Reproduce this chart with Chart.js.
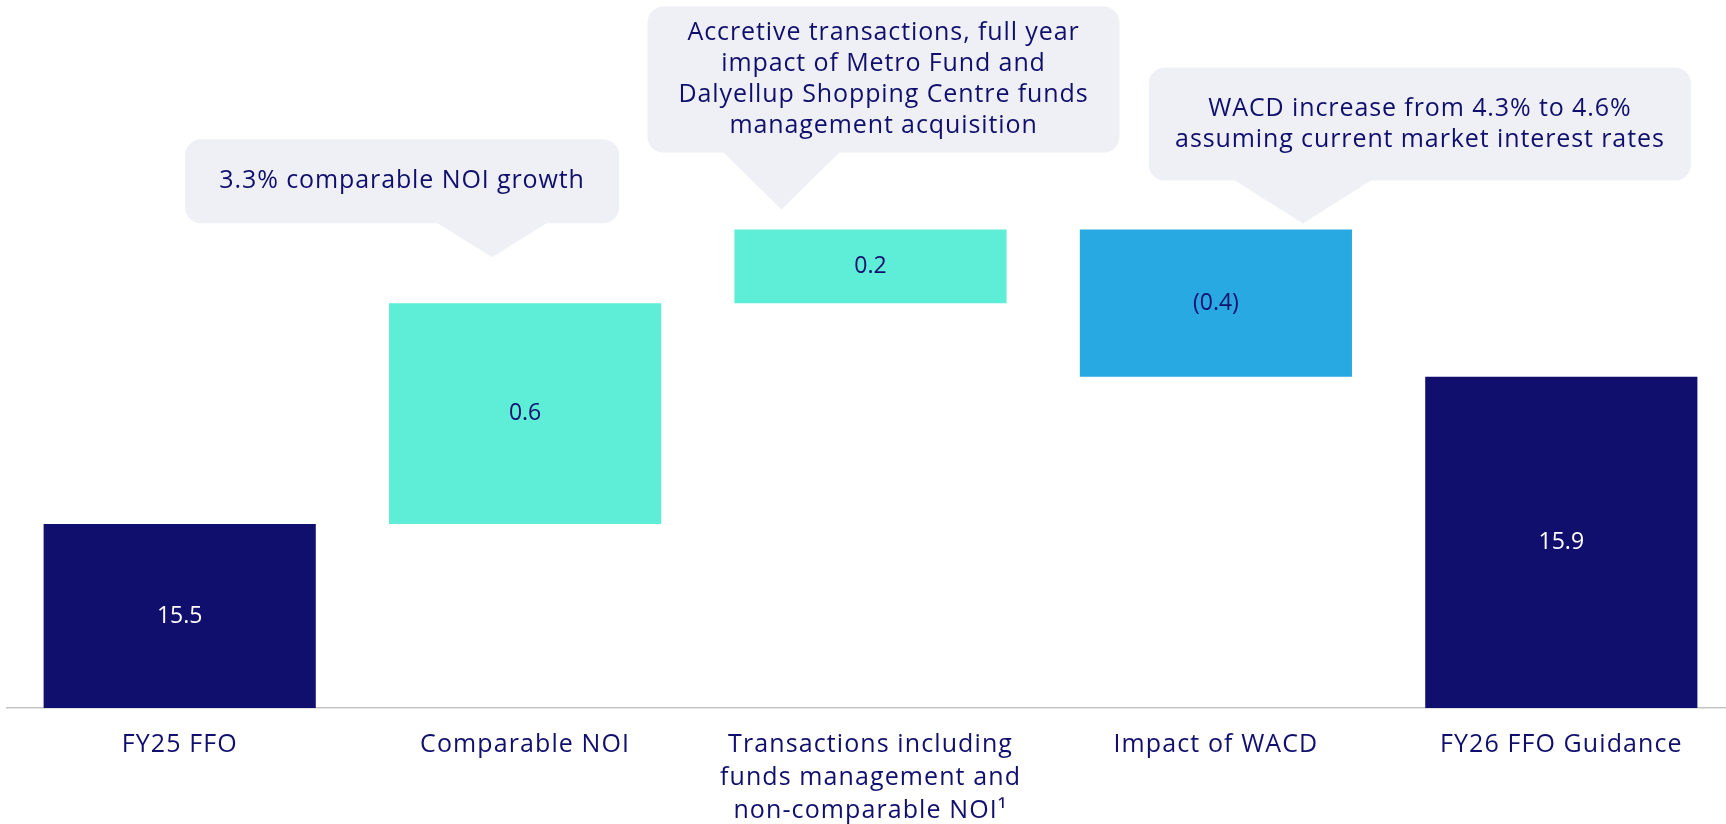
<!DOCTYPE html>
<html><head><meta charset="utf-8">
<script src="https://cdn.jsdelivr.net/npm/chart.js@4.4.1/dist/chart.umd.min.js"></script>
<style>html,body{margin:0;padding:0;background:#fff;overflow:hidden}#wrap{width:1726px;height:824px;position:relative;overflow:hidden}canvas{display:block}</style>
</head><body><div id="wrap"><canvas id="c" width="1734" height="824" style="width:1734px;height:824px"></canvas></div>
<script>
// ---- data ----
const categories = [["FY25 FFO"], ["Comparable NOI"], ["Transactions including", "funds management and", "non-comparable NOI¹"], ["Impact of WACD"], ["FY26 FFO Guidance"]];
const values = [15.5, 0.6, 0.2, -0.4, 15.9];
const isTotal = [true, false, false, false, true];
const valueLabels = ["15.5", "0.6", "0.2", "(0.4)", "15.9"];
const calloutBars = [1, 2, 3];
const calloutTexts = [
  ["3.3% comparable NOI growth"],
  ["Accretive transactions, full year", "impact of Metro Fund and", "Dalyellup Shopping Centre funds", "management acquisition"],
  ["WACD increase from 4.3% to 4.6%", "assuming current market interest rates"]
];
const axisMin = 15.0;
const axisMax = 16.924;

// ---- styles ----
const NAVY = "#100F6E", TEAL = "#5EEDD6", BLUE = "#29A9E1";
const barColors = [NAVY, TEAL, TEAL, BLUE, NAVY];
const labelColors = ["#FFFFFF", NAVY, NAVY, NAVY, "#FFFFFF"];
const FONT = "'Open Sans', 'DejaVu Sans', sans-serif";
const LETTER = "1.1px";
const calloutLayout = [
  {dx: -123, w: 434, h: 84, gap: 80, tipDx: -33, tipGap: 46, baseW: 109},
  {dx: 13, w: 472, h: 146, gap: 77, tipDx: -89, tipGap: 20, baseW: 116},
  {dx: 204, w: 542, h: 113, gap: 49, tipDx: 87, tipGap: 6, baseW: 136}
];

// running totals -> floating ranges
let run = 0;
const ranges = values.map((v, i) => {
  if (isTotal[i]) { run = v; return [0, v]; }
  const r = [run, run + v]; run += v; return r;
});

const spacingPlugin = {
  id: 'spacing',
  beforeDraw(chart) { chart.ctx.letterSpacing = LETTER; }
};

const calloutPlugin = {
  id: 'callouts',
  afterDraw(chart) {
    const ctx = chart.ctx, meta = chart.getDatasetMeta(0);
    calloutBars.forEach((bi, k) => {
      const el = meta.data[bi], L = calloutLayout[k];
      const barTop = Math.min(el.y, el.base);
      const cx = el.x + L.dx, bottom = barTop - L.gap, top = bottom - L.h;
      const left = cx - L.w / 2, right = cx + L.w / 2, r = 16;
      const tipX = el.x + L.tipDx, tipY = barTop - L.tipGap;
      ctx.save();
      ctx.fillStyle = "#EFF0F5";
      ctx.beginPath();
      ctx.moveTo(left + r, top);
      ctx.lineTo(right - r, top); ctx.arcTo(right, top, right, top + r, r);
      ctx.lineTo(right, bottom - r); ctx.arcTo(right, bottom, right - r, bottom, r);
      ctx.lineTo(tipX + L.baseW / 2, bottom);
      ctx.lineTo(tipX, tipY);
      ctx.lineTo(tipX - L.baseW / 2, bottom);
      ctx.lineTo(left + r, bottom); ctx.arcTo(left, bottom, left, bottom - r, r);
      ctx.lineTo(left, top + r); ctx.arcTo(left, top, left + r, top, r);
      ctx.closePath(); ctx.fill();
      ctx.fillStyle = NAVY;
      ctx.letterSpacing = "0.9px";
      ctx.font = "25px " + FONT;
      ctx.textAlign = "center"; ctx.textBaseline = "middle";
      const lines = calloutTexts[k], lh = 31;
      const cy = (top + bottom) / 2;
      lines.forEach((t, j) => ctx.fillText(t, cx, cy + (j - (lines.length - 1) / 2) * lh));
      ctx.restore();
    });
  }
};

const labelPlugin = {
  id: 'barLabels',
  afterDatasetsDraw(chart) {
    const ctx = chart.ctx, meta = chart.getDatasetMeta(0), area = chart.chartArea;
    ctx.save();
    ctx.letterSpacing = "0px";
    ctx.font = "23px " + FONT; ctx.textAlign = "center"; ctx.textBaseline = "middle";
    meta.data.forEach((el, i) => {
      const top = Math.max(Math.min(el.y, el.base), area.top);
      const bot = Math.min(Math.max(el.y, el.base), area.bottom);
      ctx.fillStyle = labelColors[i];
      ctx.fillText(valueLabels[i], el.x, (top + bot) / 2);
    });
    ctx.restore();
  }
};

new Chart(document.getElementById('c'), {
  type: 'bar',
  data: {labels: categories, datasets: [{data: ranges, backgroundColor: barColors, borderWidth: 0, barPercentage: 0.788, categoryPercentage: 1}]},
  options: {
    responsive: false, animation: false,
    layout: {padding: {left: 7, right: 0, top: 0, bottom: 0}},
    plugins: {legend: {display: false}, tooltip: {enabled: false}},
    scales: {
      x: {
        grid: {display: false, drawTicks: false},
        border: {display: true, color: '#C4C4C4', width: 1.5},
        ticks: {color: NAVY, font: {family: FONT, size: 25, lineHeight: 1.32}, padding: 20, maxRotation: 0, minRotation: 0, autoSkip: false},
        afterFit(a) { a.height = 116; }
      },
      y: {display: false, min: axisMin, max: axisMax}
    }
  },
  plugins: [spacingPlugin, labelPlugin, calloutPlugin]
});
</script></body></html>
